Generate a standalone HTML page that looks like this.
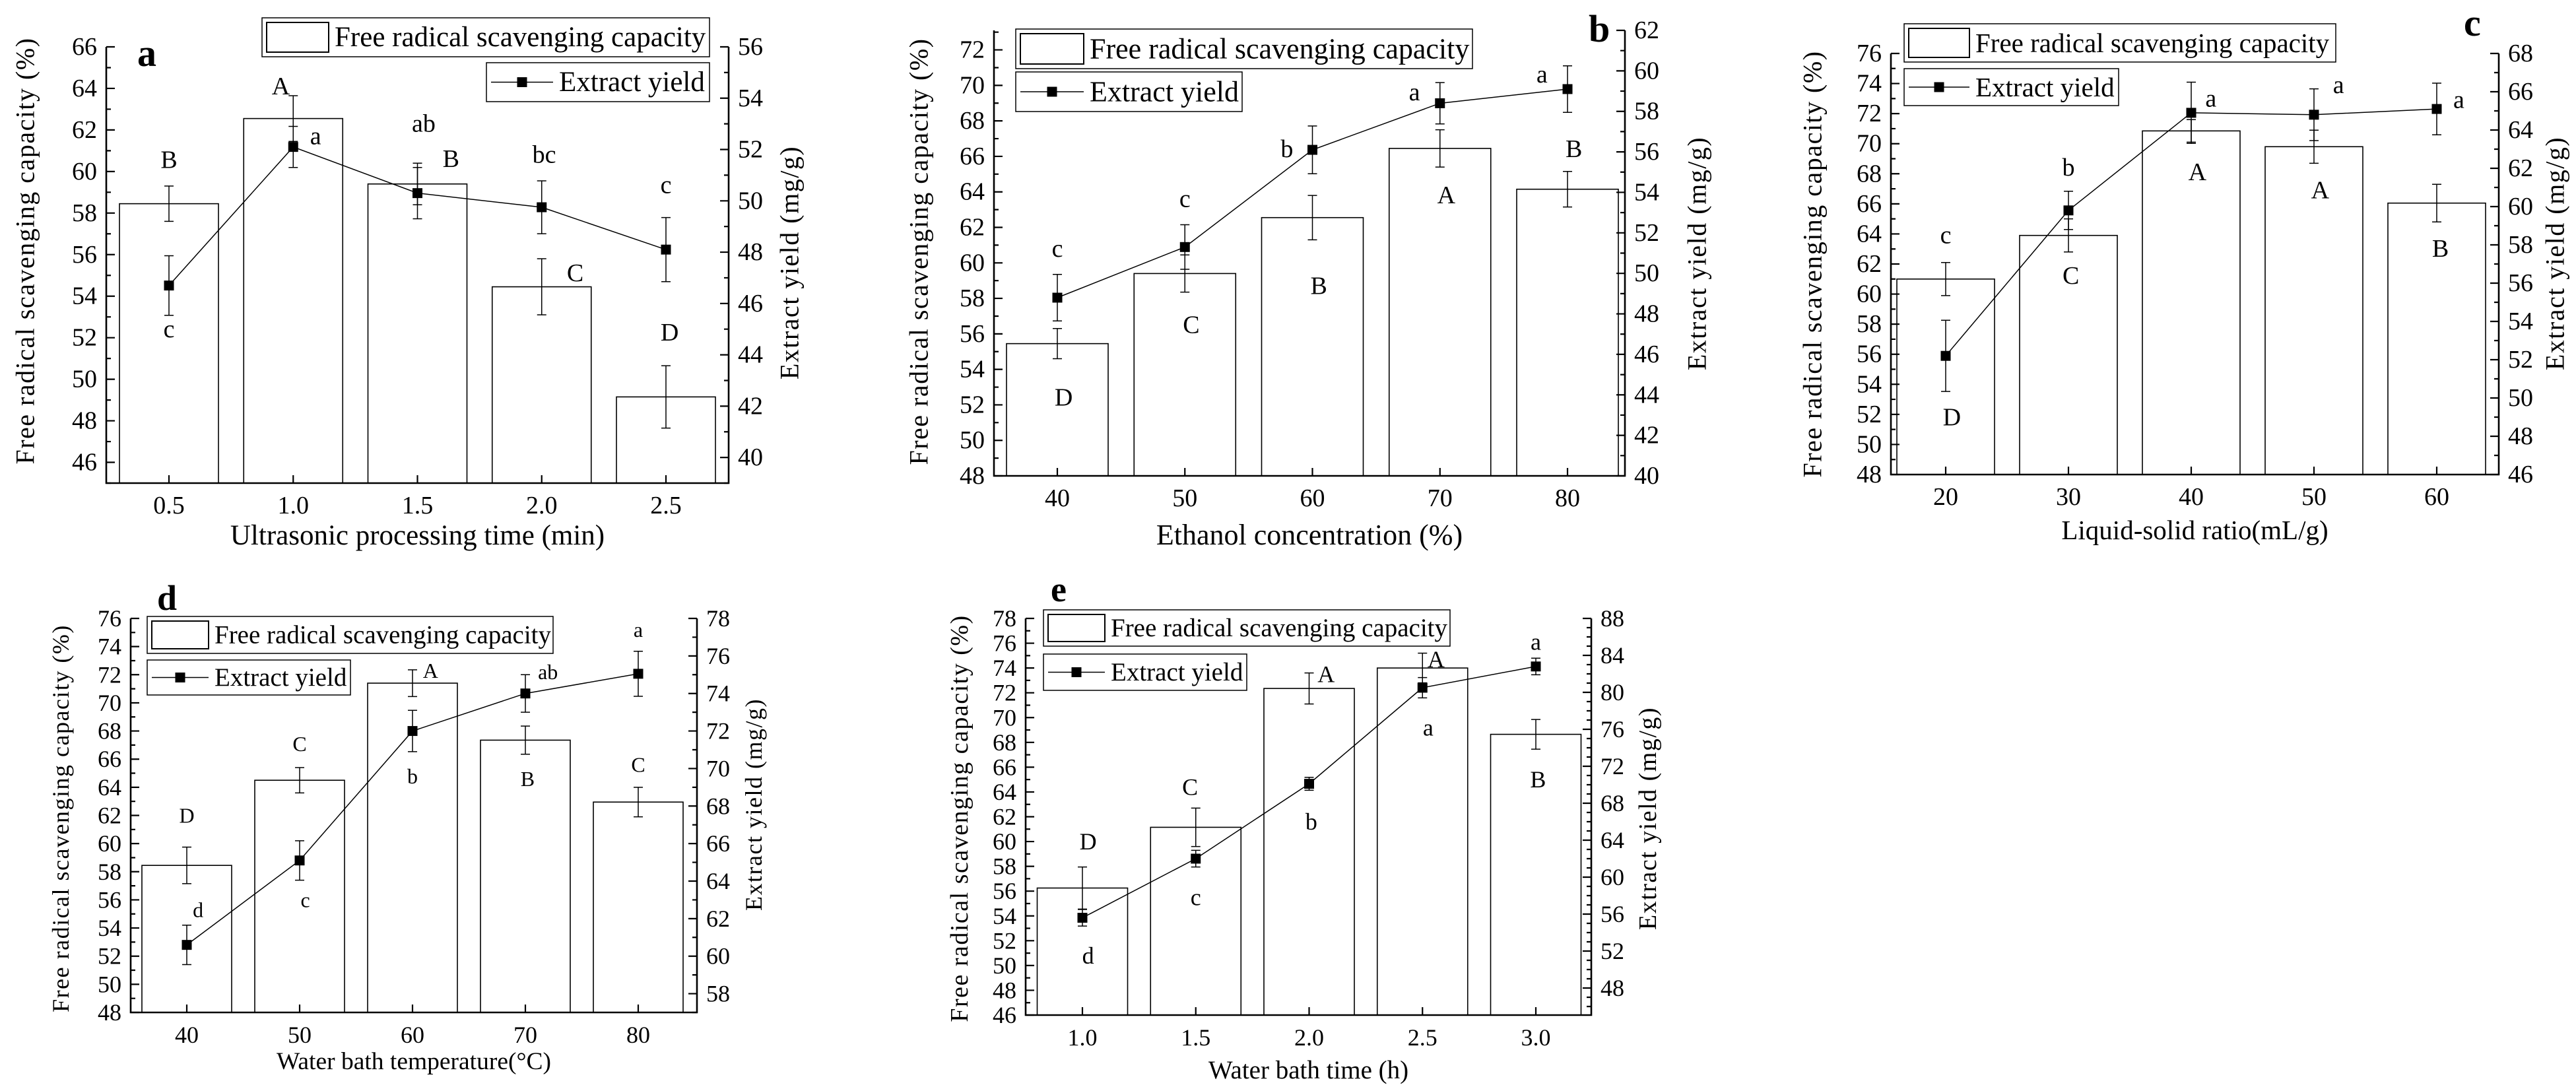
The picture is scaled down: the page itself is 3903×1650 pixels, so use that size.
<!DOCTYPE html>
<html><head><meta charset="utf-8"><style>
html,body{margin:0;padding:0;background:#fff;}
svg{display:block;font-family:"Liberation Serif",serif;}
</style></head><body>
<svg id="fig" width="3903" height="1650" viewBox="0 0 3903 1650" xmlns="http://www.w3.org/2000/svg">
<rect width="3903" height="1650" fill="#fff"/>
</svg>
<script>
// ---- Panel a data ----
const aCats = ['0.5','1.0','1.5','2.0','2.5'];
const aBars = [58.45, 62.55, 59.4, 54.45, 49.15];
const aBarErr = [0.85, 1.1, 1.0, 1.35, 1.5];
const aLine = [46.7, 52.1, 50.3, 49.75, 48.1];
const aLineErr = [1.16, 0.8, 1.0, 1.03, 1.25];
const aBarLbl = ['B','A','B','C','D'];
const aBarLblY = [60.55, 64.1, 60.6, 55.1, 52.25];
const aBarLblDx = [0, -0.1, 0.27, 0.27, 0.03];
const aLineLbl = ['c','a','ab','bc','c'];
const aLineLblY = [52.4, 61.7, 62.3, 60.8, 59.35];
const aLineLblDx = [0, 0.18, 0.05, 0.02, 0];
// ---- Panel b data ----
const bCats = ['40','50','60','70','80'];
const bBars = [55.45, 59.4, 62.55, 66.45, 64.15];
const bBarErr = [0.85, 1.05, 1.25, 1.05, 1.0];
const bLine = [48.8, 51.3, 56.1, 58.4, 59.1];
const bLineErr = [1.15, 1.1, 1.18, 1.02, 1.15];
const bBarLbl = ['D','C','B','A','B'];
const bBarLblY = [52.4, 56.5, 58.7, 63.8, 66.4];
const bBarLblDx = [0.05, 0.05, 0.05, 0.05, 0.05];
const bLineLbl = ['c','c','b','a','a'];
const bLineLblY = [60.8, 63.6, 66.4, 69.6, 70.6];
const bLineLblDx = [0, 0, -0.2, -0.2, -0.2];
// ---- Panel c data ----
const cCats = ['20','30','40','50','60'];
const cBars = [61.0, 63.9, 70.85, 69.8, 66.05];
const cBarErr = [1.1, 1.1, 0.75, 1.1, 1.25];
const cLine = [52.2, 59.8, 64.9, 64.8, 65.1];
const cLineErr = [1.86, 1.0, 1.6, 1.35, 1.35];
const cBarLbl = ['D','C','A','A','B'];
const cBarLblY = [51.8, 61.2, 68.1, 66.9, 63.0];
const cBarLblDx = [0.05, 0.02, 0.05, 0.05, 0.03];
const cLineLbl = ['c','b','a','a','a'];
const cLineLblY = [63.9, 68.4, 73.0, 73.9, 72.9];
const cLineLblDx = [0, 0, 0.16, 0.2, 0.18];
// ---- Panel d data ----
const dCats = ['40','50','60','70','80'];
const dBars = [58.45, 64.5, 71.4, 67.35, 62.95];
const dBarErr = [1.3, 0.9, 0.95, 1.0, 1.05];
const dLine = [60.6, 65.1, 72.0, 74.0, 75.05];
const dLineErr = [1.05, 1.05, 1.1, 1.0, 1.2];
const dBarLbl = ['D','C','A','B','C'];
const dBarLblY = [62.0, 67.1, 72.3, 64.6, 65.6];
const dBarLblDx = [0, 0, 0.16, 0.02, 0];
const dLineLbl = ['d','c','b','ab','a'];
const dLineLblY = [55.3, 56.0, 64.8, 72.2, 75.2];
const dLineLblDx = [0.1, 0.05, 0, 0.2, 0];
// ---- Panel e data ----
const eCats = ['1.0','1.5','2.0','2.5','3.0'];
const eBars = [56.25, 61.15, 72.35, 74.0, 68.65];
const eBarErr = [1.7, 1.55, 1.25, 1.2, 1.2];
const eLine = [55.6, 62.0, 70.1, 80.5, 82.8];
const eLineErr = [0.9, 0.9, 0.7, 1.1, 0.9];
const eBarLbl = ['D','C','A','A','B'];
const eBarLblY = [60.0, 64.4, 73.5, 74.7, 65.0];
const eBarLblDx = [0.05, -0.05, 0.15, 0.12, 0.02];
const eLineLbl = ['d','c','b','a','a'];
const eLineLblY = [50.8, 55.5, 61.6, 69.2, 76.1];
const eLineLblDx = [0.05, 0, 0.02, 0.05, 0];

const NS = 'http://www.w3.org/2000/svg';
const svg = document.getElementById('fig');
function mk(parent, tag, attrs, txt) {
  const e = document.createElementNS(NS, tag);
  for (const k in attrs) e.setAttribute(k, attrs[k]);
  if (txt !== undefined) e.textContent = txt;
  parent.appendChild(e);
  return e;
}

function panel(P, cats, bars, barErr, line, lineErr, barLbl, barLblY, barLblDx, lineLbl, lineLblY, lineLblDx) {
  const g = mk(svg, 'g', {});
  
  
  const yL = v => P.B - (v - P.lmin) / (P.lmax - P.lmin) * (P.B - P.T);
  const yR = v => P.B - (v - P.rmin) / (P.rmax - P.rmin) * (P.B - P.T);
  const sp = (P.c1 - P.c0) / (cats.length - 1);
  const xC = i => P.c0 + i * sp;

  bars.forEach((v, i) => {
    const r = mk(g, 'rect', {x: xC(i) - P.bw / 2, y: yL(v), width: P.bw, height: P.B - yL(v), fill: '#fff', stroke: '#000', 'stroke-width': 1.6});
    
    
  });
  bars.forEach((v, i) => {
    const x = xC(i), t = yL(v + barErr[i]), b = yL(v - barErr[i]);
    const e = mk(g, 'path', {d: `M${x},${t}V${b}M${x-7},${t}H${x+7}M${x-7},${b}H${x+7}`, stroke: '#000', 'stroke-width': 1.5, fill: 'none'});
    
    
  });
  const pl = mk(g, 'polyline', {points: line.map((v, i) => xC(i) + ',' + yR(v)).join(' '), fill: 'none', stroke: '#000', 'stroke-width': 1.5});
  
  
  line.forEach((v, i) => {
    const x = xC(i), t = yR(v + lineErr[i]), b = yR(v - lineErr[i]);
    const e = mk(g, 'path', {d: `M${x},${t}V${b}M${x-7},${t}H${x+7}M${x-7},${b}H${x+7}`, stroke: '#000', 'stroke-width': 1.5, fill: 'none'});
    
    
    const m = mk(g, 'rect', {x: x - 7.5, y: yR(v) - 7.5, width: 15, height: 15, fill: '#000'});
    
    
  });
  barLbl.forEach((s, i) => {
    const t = mk(g, 'text', {x: xC(i + barLblDx[i]), y: yL(barLblY[i]), 'font-size': P.lf, 'text-anchor': 'middle', 'dominant-baseline': 'central'}, s);
    
    
  });
  lineLbl.forEach((s, i) => {
    const t = mk(g, 'text', {x: xC(i + lineLblDx[i]), y: yL(lineLblY[i]), 'font-size': P.lf, 'text-anchor': 'middle', 'dominant-baseline': 'central'}, s);
    
    
  });

  const ax = mk(g, 'path', {d: `M${P.L},${P.T}V${P.B}H${P.R}V${P.T}`, fill: 'none', stroke: '#000', 'stroke-width': 2.6});
  
  
  let d = '';
  for (let v = Math.ceil(P.lmin / P.lminor - 1e-9) * P.lminor; v <= P.lmax + 1e-9; v += P.lminor) {
    const y = yL(v);
    const major = Math.abs(v / P.lstep - Math.round(v / P.lstep)) < 1e-6;
    d += `M${P.L},${y}H${P.L + (major ? 13 : 7)}`;
    if (major) {
      const t = mk(g, 'text', {x: P.L - 14, y: y, 'font-size': P.tf, 'text-anchor': 'end', 'dominant-baseline': 'central'}, String(Math.round(v)));
      
      
    }
  }
  for (let v = Math.ceil(P.rmin / P.rminor - 1e-9) * P.rminor; v <= P.rmax + 1e-9; v += P.rminor) {
    const y = yR(v);
    const major = Math.abs(v / P.rstep - Math.round(v / P.rstep)) < 1e-6;
    d += `M${P.R},${y}H${P.R - (major ? 13 : 7)}`;
    if (major) {
      const t = mk(g, 'text', {x: P.R + 14, y: y, 'font-size': P.tf, 'text-anchor': 'start', 'dominant-baseline': 'central'}, String(Math.round(v)));
      
      
    }
  }
  cats.forEach((c, i) => {
    d += `M${xC(i)},${P.B}V${P.B - 12}`;
    const t = mk(g, 'text', {x: xC(i), y: P.B + 46, 'font-size': P.tf, 'text-anchor': 'middle'}, c);
    
    
  });
  mk(g, 'path', {d: d, stroke: '#000', 'stroke-width': 2.2, fill: 'none'});

  let t = mk(g, 'text', {x: (P.L + P.R) / 2, y: P.xty, 'font-size': P.xf, 'text-anchor': 'middle'}, P.xtitle);
  
  
  t = mk(g, 'text', {x: 0, y: 0, 'font-size': P.af, 'letter-spacing': 1.5, 'text-anchor': 'middle', 'dominant-baseline': 'central', transform: `translate(${P.ltx},${P.lty}) rotate(-90)`}, 'Free radical scavenging capacity (%)');
  
  
  t = mk(g, 'text', {x: 0, y: 0, 'font-size': P.af, 'letter-spacing': 1.5, 'text-anchor': 'middle', 'dominant-baseline': 'central', transform: `translate(${P.rtx},${P.rty}) rotate(-90)`}, 'Extract yield (mg/g)');
  
  
  t = mk(g, 'text', {x: P.px, y: P.py, 'font-size': P.pf, 'font-weight': 'bold'}, P.id);
  
  

  const l1 = P.leg1, l2 = P.leg2;
  const lg1 = mk(g, 'g', {});
  
  
  mk(lg1, 'rect', {x: l1[0], y: l1[1], width: l1[2] - l1[0], height: l1[3] - l1[1], fill: '#fff', stroke: '#000', 'stroke-width': 1.5});
  const h1 = l1[3] - l1[1];
  mk(lg1, 'rect', {x: l1[0] + 7, y: l1[1] + 7, width: P.sw, height: h1 - 14, fill: '#fff', stroke: '#000', 'stroke-width': 2});
  mk(lg1, 'text', {x: l1[0] + P.sw + 16, y: l1[1] + h1 / 2, 'font-size': P.gf, 'dominant-baseline': 'central'}, 'Free radical scavenging capacity');
  const lg2 = mk(g, 'g', {});
  
  
  mk(lg2, 'rect', {x: l2[0], y: l2[1], width: l2[2] - l2[0], height: l2[3] - l2[1], fill: '#fff', stroke: '#000', 'stroke-width': 1.5});
  const cy = (l2[1] + l2[3]) / 2;
  mk(lg2, 'line', {x1: l2[0] + 7, y1: cy, x2: l2[0] + P.sw + 7, y2: cy, stroke: '#000', 'stroke-width': 1.5});
  mk(lg2, 'rect', {x: l2[0] + 7 + P.sw / 2 - 7.5, y: cy - 7.5, width: 15, height: 15, fill: '#000'});
  mk(lg2, 'text', {x: l2[0] + P.sw + 16, y: cy, 'font-size': P.gf, 'dominant-baseline': 'central'}, 'Extract yield');
}

panel({id: 'a', L: 161, R: 1104, T: 71, B: 732, lmin: 45, lmax: 66, lstep: 2, lminor: 1, rmin: 39, rmax: 56, rstep: 2, rminor: 1,
  c0: 256, c1: 1009, bw: 150, lf: 38, tf: 38, af: 40, xf: 43, gf: 43, pf: 58, sw: 94,
  xtitle: 'Ultrasonic processing time (min)', xty: 825, ltx: 38, lty: 380, rtx: 1196, rty: 398, px: 208, py: 100,
  leg1: [397, 27, 1075, 86], leg2: [737, 95, 1075, 154]},
  aCats, aBars, aBarErr, aLine, aLineErr, aBarLbl, aBarLblY, aBarLblDx, aLineLbl, aLineLblY, aLineLblDx);

panel({id: 'b', L: 1506, R: 2462, T: 46, B: 721, lmin: 48, lmax: 73.1, lstep: 2, lminor: 1, rmin: 40, rmax: 62, rstep: 2, rminor: 1,
  c0: 1602, c1: 2375, bw: 154, lf: 38, tf: 38, af: 40, xf: 44, gf: 44, pf: 58, sw: 96,
  xtitle: 'Ethanol concentration (%)', xty: 825, ltx: 1392, lty: 381, rtx: 2571, rty: 384, px: 2407, py: 63,
  leg1: [1539, 44, 2231, 104], leg2: [1539, 109, 1882, 169]},
  bCats, bBars, bBarErr, bLine, bLineErr, bBarLbl, bBarLblY, bBarLblDx, bLineLbl, bLineLblY, bLineLblDx);

panel({id: 'c', L: 2865, R: 3786, T: 81, B: 719, lmin: 48, lmax: 76, lstep: 2, lminor: 1, rmin: 46, rmax: 68, rstep: 2, rminor: 1,
  c0: 2948, c1: 3692, bw: 148, lf: 38, tf: 38, af: 40, xf: 41, gf: 41, pf: 58, sw: 92,
  xtitle: 'Liquid-solid ratio(mL/g)', xty: 817, ltx: 2746, lty: 400, rtx: 3871, rty: 384, px: 3733, py: 54,
  leg1: [2885, 36, 3539, 94], leg2: [2885, 104, 3210, 160]},
  cCats, cBars, cBarErr, cLine, cLineErr, cBarLbl, cBarLblY, cBarLblDx, cLineLbl, cLineLblY, cLineLblDx);

panel({id: 'd', L: 198, R: 1056, T: 937, B: 1534, lmin: 48, lmax: 76, lstep: 2, lminor: 1, rmin: 57, rmax: 78, rstep: 2, rminor: 1,
  c0: 283, c1: 967, bw: 136, lf: 32, tf: 36, af: 36, xf: 37.5, gf: 39, pf: 54, sw: 86,
  xtitle: 'Water bath temperature(°C)', xty: 1620, ltx: 92, lty: 1240, rtx: 1142, rty: 1219, px: 238, py: 924,
  leg1: [223, 934, 838, 990], leg2: [223, 1000, 531, 1053]},
  dCats, dBars, dBarErr, dLine, dLineErr, dBarLbl, dBarLblY, dBarLblDx, dLineLbl, dLineLblY, dLineLblDx);

panel({id: 'e', L: 1554, R: 2411, T: 937, B: 1538, lmin: 46, lmax: 78, lstep: 2, lminor: 1, rmin: 45.07, rmax: 88, rstep: 4, rminor: 1,
  c0: 1640, c1: 2327, bw: 137, lf: 36, tf: 36, af: 38, xf: 39, gf: 39, pf: 54, sw: 86,
  xtitle: 'Water bath time (h)', xty: 1634, ltx: 1454, lty: 1240, rtx: 2497, rty: 1240, px: 1592, py: 911,
  leg1: [1581, 924, 2197, 979], leg2: [1581, 991, 1889, 1046]},
  eCats, eBars, eBarErr, eLine, eLineErr, eBarLbl, eBarLblY, eBarLblDx, eLineLbl, eLineLblY, eLineLblDx);
</script>
</body></html>
